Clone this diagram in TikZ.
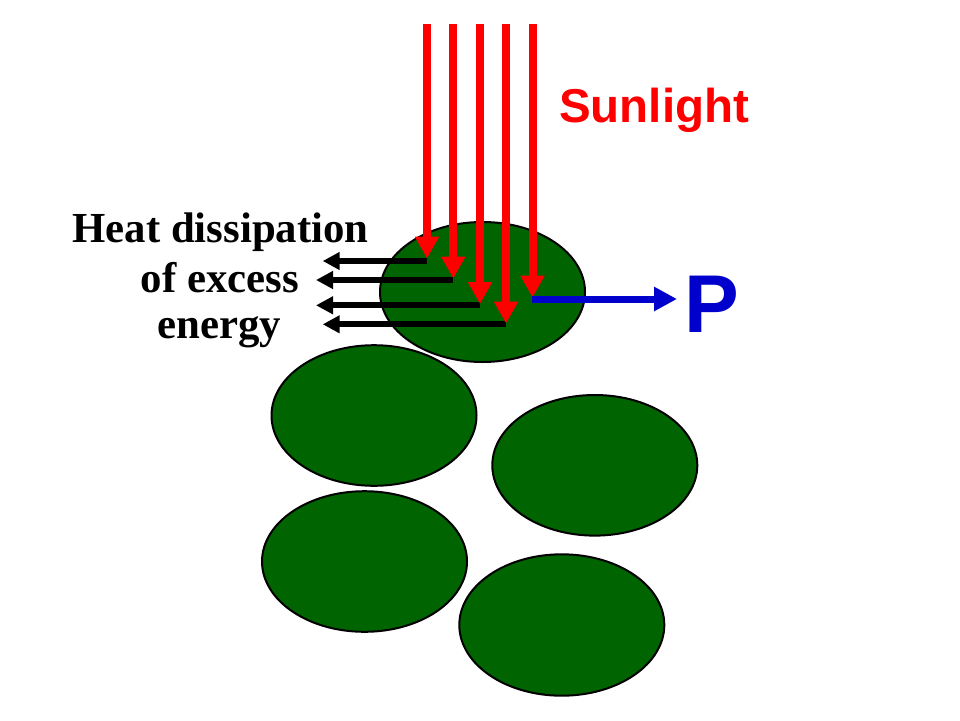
\documentclass[tikz,border=0pt]{standalone}
\usepackage{fontspec}
\setmainfont{Liberation Serif}
\newfontfamily\arialfont{Liberation Sans}
\usetikzlibrary{arrows.meta}
\definecolor{leafgreen}{RGB}{0,100,0}
\definecolor{pblue}{RGB}{0,0,204}
\definecolor{sunred}{RGB}{255,0,0}
\begin{document}
\begin{tikzpicture}[x=1pt,y=-1pt,
  cell/.style={draw=black,line width=2pt,fill=leafgreen},
  sunray/.style={draw=sunred,line width=8pt,-{Triangle[length=22pt,width=23pt]}},
  heatray/.style={draw=black,line width=6pt,-{Triangle[length=17pt,width=17pt]}},
  prod/.style={draw=pblue,line width=7pt,-{Triangle[length=23pt,width=23pt]}},
  heattext/.style={anchor=base,inner sep=0pt,font=\bfseries\fontsize{42.8}{50}\selectfont}]
\useasboundingbox (0,0) rectangle (960,720);
% cells
\draw[cell] (482.5,292) ellipse [x radius=102.5, y radius=70];
\draw[cell] (374,415.5) ellipse [x radius=102.5, y radius=70.3];
\draw[cell] (594.8,465.3) ellipse [x radius=102.5, y radius=70.3];
\draw[cell] (364.5,561.5) ellipse [x radius=102.5, y radius=70.3];
\draw[cell] (561.8,625) ellipse [x radius=102.5, y radius=70.7];
% coordinates
\coordinate (s1) at (427,24);  \coordinate (t1) at (427,258.5);
\coordinate (s2) at (453.3,24);\coordinate (t2) at (453.3,278.5);
\coordinate (s3) at (480,24);  \coordinate (t3) at (480,304);
\coordinate (s4) at (506,24);  \coordinate (t4) at (506,323.5);
\coordinate (s5) at (532.5,24);\coordinate (t5) at (532.5,297.5);
\coordinate (h1) at (322.7,261); \coordinate (b1) at (427,261);
\coordinate (h2) at (316,280);   \coordinate (b2) at (453.3,280);
\coordinate (h3) at (316,305.3); \coordinate (b3) at (480,305.3);
\coordinate (h4) at (322.7,324.3); \coordinate (b4) at (506,324.3);
\coordinate (pstart) at (532,299);
\coordinate (ptip) at (677,299);
% heat arrows
\draw[heatray] (b1) -- (h1);
\draw[heatray] (b2) -- (h2);
\draw[heatray] (b3) -- (h3);
\draw[heatray] (b4) -- (h4);
% sun rays
\draw[sunray] (s1) -- (t1);
\draw[sunray] (s2) -- (t2);
\draw[sunray] (s3) -- (t3);
\draw[sunray] (s4) -- (t4);
\draw[sunray] (s5) -- (t5);
% P
\node[anchor=base west,inner sep=0pt,text=pblue,font=\arialfont\bfseries\fontsize{82}{90}\selectfont] (P) at (684,332) {P};
\draw[prod] (pstart) -- (ptip);
% labels
\node[anchor=base west,inner sep=0pt,text=sunred,font=\arialfont\bfseries\fontsize{47.5}{56}\selectfont] (sun) at (559,122) {Sunlight};
\node[heattext] (heat1) at (220.5,242) {Heat dissipation};
\node[heattext] (heat2) at (220,292) {of excess};
\node[heattext] (heat3) at (219,338) {energy};
\end{tikzpicture}
\end{document}
